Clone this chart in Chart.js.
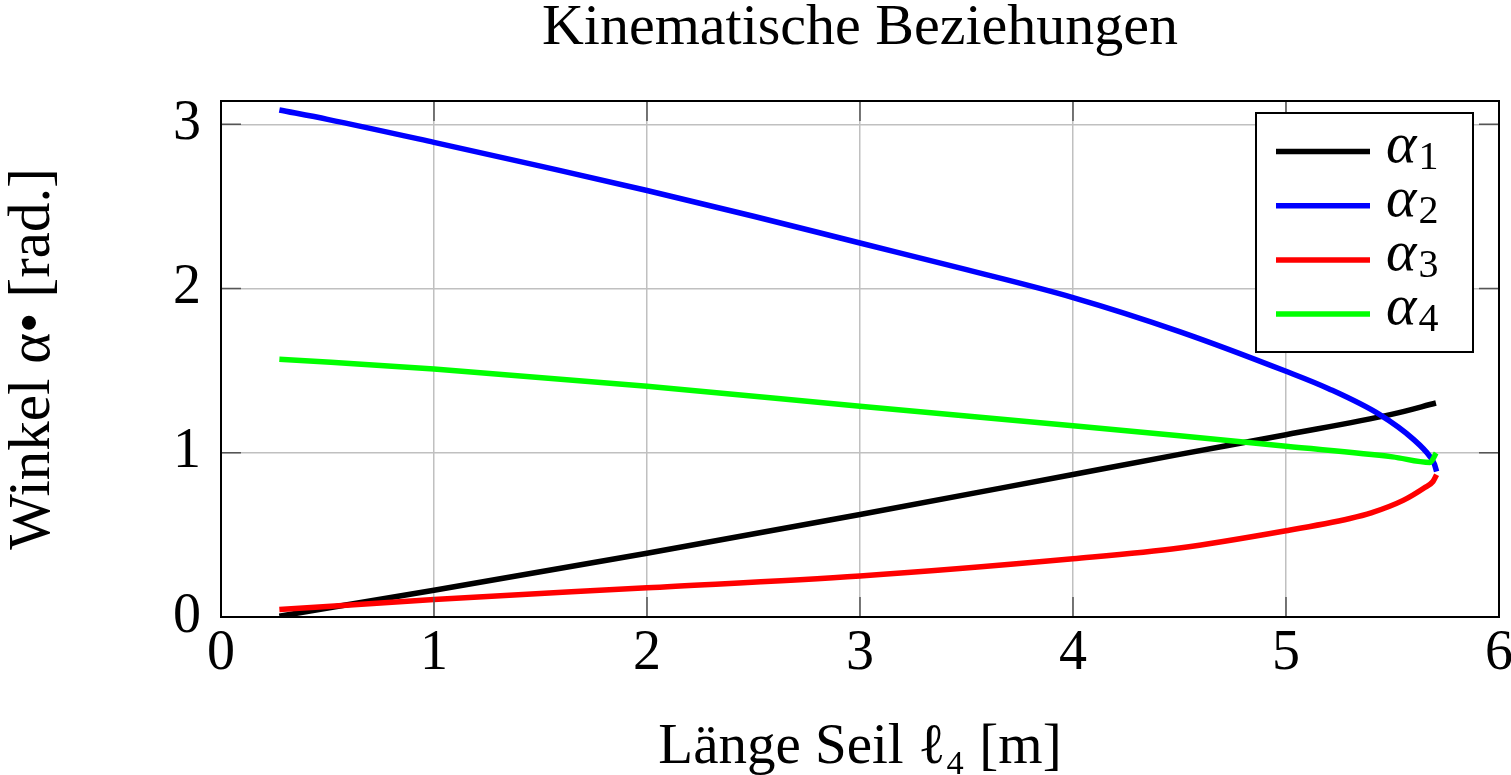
<!DOCTYPE html>
<html>
<head>
<meta charset="utf-8">
<title>Kinematische Beziehungen</title>
<script src="https://cdn.jsdelivr.net/npm/chart.js@4/dist/chart.umd.min.js"></script>
<style>
  html, body { margin: 0; padding: 0; background: #fff; }
  #wrap { width: 1511px; height: 775px; }
</style>
</head>
<body>
<div id="wrap"><canvas id="chart"></canvas></div>
<script>
// Länge Seil l4 [m] und Winkel [rad]
const l4A1 = [0.274, 1, 2, 3, 4, 4.5, 5, 5.5, 5.704];
const alpha1 = [0.005, 0.163, 0.388, 0.624, 0.868, 0.99, 1.11, 1.235, 1.303];

const l4A2 = [0.274, 0.5, 1, 1.5, 2, 2.5, 3, 3.5, 4, 4.5, 5, 5.2, 5.44, 5.6, 5.676, 5.697, 5.707];
const alpha2 = [3.087, 3.03, 2.89, 2.745, 2.597, 2.44, 2.277, 2.115, 1.945, 1.738, 1.496, 1.39, 1.232, 1.08, 0.977, 0.93, 0.886];

const l4A3 = [0.274, 1, 2, 3, 4, 4.5, 5, 5.3, 5.4, 5.55, 5.65, 5.69, 5.707];
const alpha3 = [0.045, 0.107, 0.178, 0.25, 0.355, 0.42, 0.525, 0.6, 0.634, 0.71, 0.787, 0.825, 0.866];

const l4A4 = [0.274, 1, 2, 3, 4, 4.5, 5, 5.5, 5.676, 5.705];
const alpha4 = [1.57, 1.51, 1.405, 1.283, 1.165, 1.104, 1.039, 0.975, 0.941, 0.998];

const seriesSubs = ["1", "2", "3", "4"];
const seriesColors = ["#000000", "#0000ff", "#ff0000", "#00ff00"];

const serif = "'Liberation Serif', 'DejaVu Serif', serif";

function pairs(xs, ys) {
  return xs.map((x, i) => ({ x: x, y: ys[i] }));
}

// Rahmen + Ticks nach innen (wie pgfplots)
const frameTicks = {
  id: "frameTicks",
  afterDatasetsDraw(chart) {
    const { ctx, chartArea, scales } = chart;
    const len = 20;
    ctx.save();
    ctx.strokeStyle = "#555";
    ctx.lineWidth = 1.5;
    ctx.beginPath();
    scales.x.ticks.forEach((t) => {
      const px = scales.x.getPixelForValue(t.value);
      ctx.moveTo(px, chartArea.bottom); ctx.lineTo(px, chartArea.bottom - len);
      ctx.moveTo(px, chartArea.top); ctx.lineTo(px, chartArea.top + len);
    });
    scales.y.ticks.forEach((t) => {
      const py = scales.y.getPixelForValue(t.value);
      ctx.moveTo(chartArea.left, py); ctx.lineTo(chartArea.left + len, py);
      ctx.moveTo(chartArea.right, py); ctx.lineTo(chartArea.right - len, py);
    });
    ctx.stroke();
    ctx.strokeStyle = "#000";
    ctx.lineWidth = 2;
    ctx.strokeRect(chartArea.left, chartArea.top, chartArea.right - chartArea.left, chartArea.bottom - chartArea.top);
    ctx.restore();
  },
};

// Legende mit Kasten oben rechts
const legendBox = {
  id: "legendBox",
  afterDraw(chart) {
    const { ctx, chartArea } = chart;
    const x0 = chartArea.right - 243;
    const y0 = chartArea.top + 12;
    const w = 217, h = 239;
    ctx.save();
    ctx.fillStyle = "#fff";
    ctx.fillRect(x0, y0, w, h);
    ctx.strokeStyle = "#000";
    ctx.lineWidth = 2;
    ctx.strokeRect(x0, y0, w, h);
    chart.data.datasets.forEach((ds, i) => {
      const y = y0 + 38.5 + i * 54.2;
      ctx.strokeStyle = ds.borderColor;
      ctx.lineWidth = 5.5;
      ctx.beginPath();
      ctx.moveTo(x0 + 20, y);
      ctx.lineTo(x0 + 114, y);
      ctx.stroke();
      ctx.fillStyle = "#000";
      ctx.textBaseline = "alphabetic";
      ctx.font = "italic 58px " + serif;
      ctx.fillText("α", x0 + 130, y + 10);
      const aw = ctx.measureText("α").width;
      ctx.font = "40px " + serif;
      ctx.fillText(seriesSubs[i], x0 + 132 + aw, y + 17);
    });
    ctx.restore();
  },
};

const chart = new Chart(document.getElementById("chart"), {
  type: "line",
  data: {
    datasets: [
      { label: "α1", data: pairs(l4A1, alpha1), borderColor: seriesColors[0], order: 4 },
      { label: "α2", data: pairs(l4A2, alpha2), borderColor: seriesColors[1], order: 3 },
      { label: "α3", data: pairs(l4A3, alpha3), borderColor: seriesColors[2], order: 2 },
      { label: "α4", data: pairs(l4A4, alpha4), borderColor: seriesColors[3], order: 1 },
    ],
  },
  options: {
    responsive: true,
    maintainAspectRatio: false,
    animation: false,
    devicePixelRatio: 1,
    datasets: {
      line: { borderWidth: 5.5, pointRadius: 0, fill: false, cubicInterpolationMode: "monotone" },
    },
    layout: { padding: { left: 0, right: 12, top: 0, bottom: 0 } },
    plugins: {
      legend: { display: false },
      tooltip: { enabled: false },
      title: {
        display: true,
        text: "Kinematische Beziehungen",
        fullSize: false,
        color: "#000",
        font: { family: serif, size: 58, weight: "normal", lineHeight: 1.2 },
        padding: { top: -6, bottom: 37.4 },
      },
    },
    scales: {
      x: {
        type: "linear",
        min: 0,
        max: 6,
        afterFit(scale) {
          scale.height = 158;
          scale.paddingLeft = 0;
          scale.paddingRight = 0;
        },
        ticks: { stepSize: 1, color: "#000", padding: 4, font: { family: serif, size: 56 } },
        grid: { color: "#c0c0c0", lineWidth: 1.5, drawTicks: false },
        border: { display: false },
        title: {
          display: true,
          text: "Länge Seil ℓ₄ [m]",
          color: "#000",
          font: { family: serif, size: 57 },
          padding: { top: 0, bottom: -7 },
        },
      },
      y: {
        type: "linear",
        min: 0,
        max: Math.PI,
        afterFit(scale) { scale.width = 221; },
        ticks: { stepSize: 1, includeBounds: false, color: "#000", padding: 20, font: { family: serif, size: 56 } },
        grid: { color: "#c0c0c0", lineWidth: 1.5, drawTicks: false },
        border: { display: false },
        title: {
          display: true,
          text: "Winkel α• [rad.]",
          color: "#000",
          font: { family: serif, size: 59 },
          padding: { top: -2, bottom: 0 },
        },
      },
    },
  },
  plugins: [frameTicks, legendBox],
});
</script>
</body>
</html>
